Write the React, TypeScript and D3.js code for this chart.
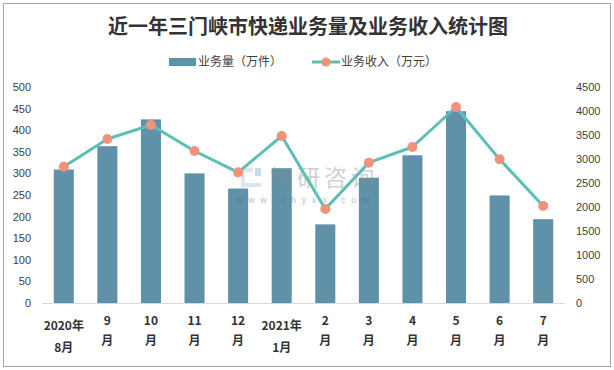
import React from 'react';
import { scaleBand, scaleLinear, line, range } from 'd3';

const months = ['2020年8月', '9月', '10月', '11月', '12月', '2021年1月', '2月', '3月', '4月', '5月', '6月', '7月'];
const labelTop = ['2020年', '9', '10', '11', '12', '2021年', '2', '3', '4', '5', '6', '7'];
const labelBottom = ['8月', '月', '月', '月', '月', '1月', '月', '月', '月', '月', '月', '月'];
const volume = [309, 363, 425, 300, 265, 312, 182, 290, 342, 444, 249, 194];
const revenue = [2840, 3417, 3708, 3167, 2722, 3479, 1958, 2924, 3250, 4083, 2993, 2021];
const leftTicks = range(0, 501, 50);
const rightTicks = range(0, 4501, 500);

const width = 614;
const height = 370;
const cjk = '"Noto Sans CJK SC", "Microsoft YaHei", sans-serif';
const num = '"Liberation Sans", Arial, sans-serif';

const App = () => {
  const x = scaleBand<string>().domain(months).range([42, 565]).paddingInner(0.54).paddingOuter(0.27);
  const yL = scaleLinear().domain([0, 500]).range([303, 87]);
  const yR = scaleLinear().domain([0, 4500]).range([303, 87]);
  const cx = (m: string) => (x(m) as number) + x.bandwidth() / 2;

  const path = line<number>()
    .x((_, i) => cx(months[i]))
    .y(d => yR(d))(revenue);

  return (
    <svg width={width} height={height} style={{ position: 'absolute', left: 0, top: 0, background: '#fff' }}>
      <rect x={3.5} y={3.5} width={607} height={363} fill="#fff" stroke="#a6a6a6" />

      <text x={308} y={34} textAnchor="middle" fontFamily={cjk} fontWeight="bold" fontSize={20} fill="#333">
        近一年三门峡市快递业务量及业务收入统计图
      </text>

      {/* legend */}
      <rect x={169} y={58} width={27} height={8} fill="#5f91a8" />
      <text x={198} y={66} fontFamily={cjk} fontSize={12} fill="#404040">业务量（万件）</text>
      <line x1={312} x2={340} y1={62} y2={62} stroke="#5bbfb5" strokeWidth={3} />
      <circle cx={326} cy={62} r={4.5} fill="#f0937a" />
      <text x={341} y={66} fontFamily={cjk} fontSize={12} fill="#404040">业务收入（万元）</text>

      {/* axes labels */}
      {leftTicks.map(t => (
        <text key={'l' + t} x={31} y={yL(t) + 4} textAnchor="end" fontFamily={num} fontSize={11} fill="#404040">{t}</text>
      ))}
      {rightTicks.map(t => (
        <text key={'r' + t} x={576} y={yR(t) + 4} fontFamily={num} fontSize={11} fill="#404040">{t}</text>
      ))}

      {volume.map((v, i) => (
        <rect key={months[i]} x={x(months[i])} y={yL(v)} width={x.bandwidth()} height={303 - yL(v)} fill="#5f91a8" />
      ))}

      <line x1={42} x2={565} y1={303.5} y2={303.5} stroke="#d9d9d9" />

      {/* watermark */}
      <g opacity={0.4}>
        <rect x={241} y={168} width={4} height={19} fill="#a9bcd6" />
        <rect x={241} y={168} width={12} height={4} fill="#a9bcd6" />
        <rect x={241} y={183} width={20} height={4} fill="#a9bcd6" />
        <rect x={255} y={168} width={6} height={8} fill="#7fa7d6" />
        <text x={270} y={186} fontFamily={cjk} fontSize={23} fill="#8c8c8c" letterSpacing={4}>智研咨询</text>
        <text x={236} y={203} fontFamily={num} fontSize={9} fill="#5a5a5a" letterSpacing={5.8}>www.chyxx.com</text>
      </g>

      <path d={path || ''} fill="none" stroke="#5bbfb5" strokeWidth={3} strokeLinejoin="round" />
      {revenue.map((v, i) => (
        <circle key={'p' + i} cx={cx(months[i])} cy={yR(v)} r={5} fill="#f0937a" />
      ))}

      {months.map((m, i) => {
        const two = labelTop[i].length > 2;
        return (
          <g key={'x' + m} fontFamily={cjk} fontWeight="bold" fontSize={12} fill="#333" textAnchor="middle">
            <text x={cx(m)} y={two ? 329.5 : 325}>{labelTop[i]}</text>
            <text x={cx(m)} y={two ? 352 : 344.5}>{labelBottom[i]}</text>
          </g>
        );
      })}
    </svg>
  );
};

export default App;
